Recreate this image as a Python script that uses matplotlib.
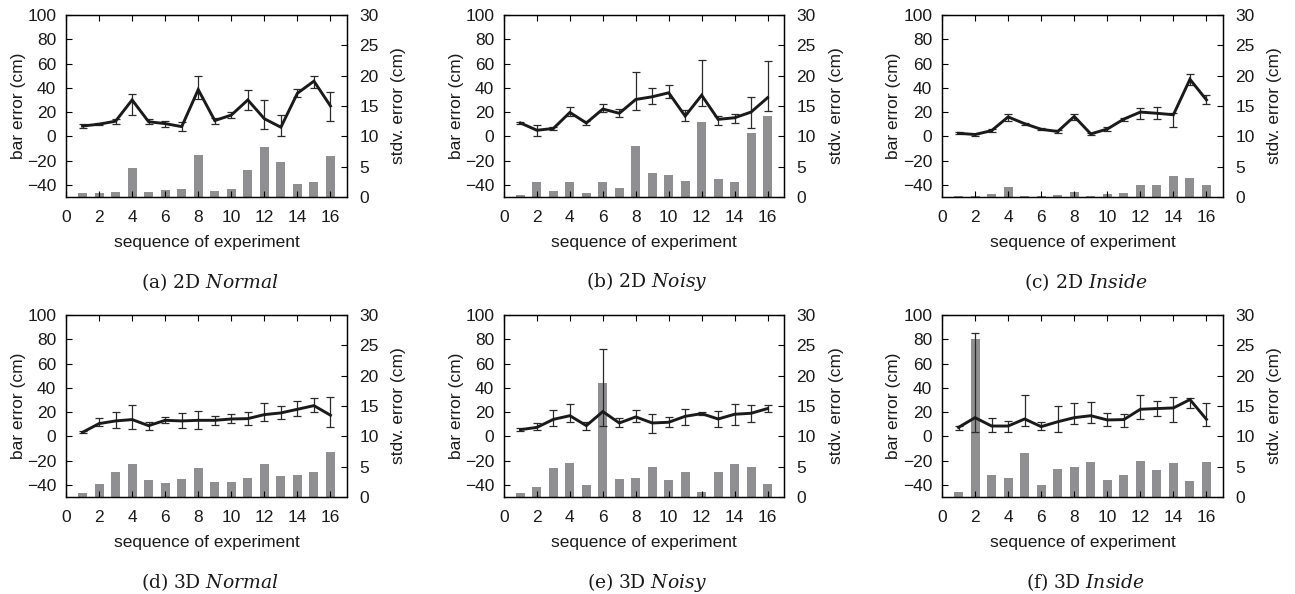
import matplotlib
matplotlib.use("Agg")
import matplotlib.pyplot as plt
import numpy as np

# ---------------- data ----------------
seq = list(range(1, 17))
x_ticks = [0, 2, 4, 6, 8, 10, 12, 14, 16]
left_ticks = [-40, -20, 0, 20, 40, 60, 80, 100]
right_ticks = [0, 5, 10, 15, 20, 25, 30]

captions = ["(a) 2D ", "(b) 2D ", "(c) 2D ", "(d) 3D ", "(e) 3D ", "(f) 3D "]
cap_italic = ["Normal", "Noisy", "Inside", "Normal", "Noisy", "Inside"]

a_mean = [8.5, 10, 12.5, 30, 12, 10.5, 8, 38.5, 13, 17.5, 30, 14.5, 7.5, 35.5, 45.5, 25]
a_lo = [7, 9, 10.5, 17.5, 10, 7.7, 4.4, 30.4, 9.8, 15.3, 21.3, 6.3, 0.5, 32.6, 40, 12.9]
a_hi = [10, 11, 14, 35, 14, 13, 12, 50, 15.3, 20, 38, 29.8, 17.5, 39, 49.6, 36.7]
a_std = [0.6, 0.6, 0.8, 4.7, 0.8, 1.2, 1.4, 7.0, 1.0, 1.4, 4.5, 8.2, 5.8, 2.2, 2.5, 6.7]

b_mean = [11, 5, 6.5, 19.7, 11, 22.5, 19, 30.4, 32.6, 35.9, 16.7, 33.9, 14, 15.3, 20, 31.8]
b_lo = [10, 0.5, 5, 16.4, 9.6, 19.7, 16, 21.6, 26.3, 31.8, 12.5, 24.9, 9, 11, 6.9, 20.8]
b_hi = [12, 9, 8, 24.4, 12.3, 26.6, 22.7, 53.4, 39.7, 42.2, 21.3, 63.3, 16.7, 18, 32.4, 62]
b_std = [0.4, 2.5, 1.0, 2.4, 0.7, 2.4, 1.5, 8.4, 4.0, 3.7, 2.7, 12.3, 2.9, 2.5, 10.6, 13.4]

c_mean = [2.5, 1.5, 4.7, 16, 10.4, 5.8, 4, 16.4, 2, 6, 14.2, 20, 19, 17.8, 47, 30]
c_lo = [1.7, 0.3, 3.6, 12.3, 9.6, 5, 3, 13.7, 1.2, 4.7, 13, 14.5, 14.5, 7.4, 42.5, 26.6]
c_hi = [3.3, 2.2, 5.8, 18, 11, 6.6, 5, 18, 2.7, 7.4, 15.3, 23, 24, 19, 51, 33.7]
c_std = [0.2, 0.2, 0.55, 1.7, 0.2, 0.1, 0.4, 0.9, 0.2, 0.55, 0.7, 2.0, 2.0, 3.4, 3.1, 2.0]

d_mean = [3.3, 10.5, 12.7, 13.8, 8.8, 13.2, 12.7, 13.2, 13.2, 14.3, 14.6, 17.9, 19.3, 22.3, 25.3, 17.4]
d_lo = [2.5, 8.8, 7, 5.8, 5.5, 10.7, 6.9, 5.8, 9.6, 10.7, 9.6, 12.7, 14.3, 16.5, 19.8, 7.7]
d_hi = [4.5, 14.9, 20.4, 25.6, 12, 16.3, 19.6, 20.7, 16.8, 18.2, 19.8, 27.5, 25, 28.9, 31.7, 32.2]
d_std = [0.6, 2.1, 4.2, 5.4, 2.75, 2.25, 2.9, 4.7, 2.4, 2.4, 3.1, 5.4, 3.4, 3.6, 4.1, 7.5]

e_mean = [5.5, 7.4, 14, 17, 8.8, 20.4, 11, 16, 11, 11.6, 16.5, 18.7, 14.3, 18.2, 19, 22.9]
e_lo = [4.7, 5.5, 8.8, 11.6, 5.5, 8.3, 7.4, 11.6, 2.5, 7.4, 9.6, 17.6, 7.7, 9.6, 11.6, 19.8]
e_hi = [6.9, 11, 21.5, 26.4, 12, 71.6, 14.9, 21.5, 18.7, 16, 22.9, 19.8, 21.2, 27, 26.2, 25.6]
e_std = [0.6, 1.6, 4.7, 5.6, 1.9, 18.8, 2.9, 3.1, 4.9, 2.75, 4.1, 0.9, 4.2, 5.4, 4.9, 2.1]

f_mean = [7.4, 15.4, 8.5, 8.5, 14.3, 8, 12, 15.4, 17, 13.5, 13.8, 22.3, 22.9, 23.4, 30.3, 14]
f_lo = [5.5, 3.3, 3.6, 3.6, 8.8, 5.5, 3.3, 9.9, 10.7, 8.8, 8, 14.6, 16.5, 11.6, 23.1, 8.3]
f_hi = [8.5, 85, 14.9, 12.9, 34.4, 11.6, 24.8, 27.5, 28.4, 19, 18.5, 34.2, 29, 32.5, 31.9, 27.3]
f_std = [0.9, 26.1, 3.6, 3.1, 7.2, 1.9, 4.6, 4.9, 5.7, 2.75, 3.6, 5.9, 4.4, 5.6, 2.6, 5.7]

panels = [
    (a_mean, a_lo, a_hi, a_std),
    (b_mean, b_lo, b_hi, b_std),
    (c_mean, c_lo, c_hi, c_std),
    (d_mean, d_lo, d_hi, d_std),
    (e_mean, e_lo, e_hi, e_std),
    (f_mean, f_lo, f_hi, f_std),
]

# ---------------- style ----------------
plt.rcParams['font.family'] = ['Liberation Sans', 'DejaVu Sans']
plt.rcParams['mathtext.fontset'] = 'custom'
plt.rcParams['mathtext.rm'] = 'DejaVu Serif'
plt.rcParams['mathtext.it'] = 'DejaVu Serif:italic'

W, H = 1295, 594
fig = plt.figure(figsize=(W / 100, H / 100), dpi=100)

col_left = [66, 504, 942]
col_width = [281, 280, 281]
row_top = [15, 315]
ax_h = 182

TXT = '#1a1a1a'
FS = 12.5
BAR_C = '#8f8f91'

for i, (mean, lo, hi, std) in enumerate(panels):
    r, c = divmod(i, 3)
    left = col_left[c] / W
    bottom = 1 - (row_top[r] + ax_h) / H
    ax = fig.add_axes([left, bottom, col_width[c] / W, ax_h / H])
    ax2 = ax.twinx()

    # bars on right axis (behind)
    ax2.bar(seq, std, width=0.55, color=BAR_C, zorder=1)
    ax2.set_ylim(0, 30)
    ax2.set_yticks(right_ticks)

    mean_a = np.array(mean)
    yerr = [mean_a - np.array(lo), np.array(hi) - mean_a]
    ax.errorbar(seq, mean, yerr=yerr, fmt='none', ecolor='#2a2a2a',
                elinewidth=0.9, capsize=3, capthick=0.9, zorder=3)
    ax.plot(seq, mean, color='#1a1a1a', lw=2.1, zorder=4, solid_joinstyle='miter')

    ax.set_xlim(0, 17)
    ax.set_ylim(-50, 100)
    ax.set_xticks(x_ticks)
    ax.set_yticks(left_ticks)

    ax.set_zorder(ax2.get_zorder() + 1)
    ax.patch.set_visible(False)

    ax.tick_params(axis='x', direction='in', top=True, bottom=True, length=4,
                   width=0.8, labelsize=FS, labelcolor=TXT, pad=9)
    ax.tick_params(axis='y', direction='in', left=True, right=False, length=4,
                   width=0.8, labelsize=FS, labelcolor=TXT, pad=7)
    ax2.tick_params(axis='y', direction='in', right=True, left=False, length=4,
                    width=0.8, labelsize=FS, labelcolor=TXT, pad=9)
    for sp in list(ax.spines.values()) + list(ax2.spines.values()):
        sp.set_linewidth(0.9)
        sp.set_color('black')

    ax.set_xlabel('sequence of experiment', fontsize=FS, color=TXT)
    ax.xaxis.set_label_coords(0.5, -46 / ax_h)
    ax.xaxis.label.set_va('center')

    ax.set_ylabel('bar error (cm)', fontsize=FS, color=TXT)
    ax.yaxis.set_label_coords(-48 / col_width[c], 0.5)
    ax.yaxis.label.set_va('center')

    ax2.set_ylabel('stdv. error (cm)', fontsize=FS, color=TXT)
    ax2.yaxis.set_label_coords(1 + 52 / col_width[c], 0.5)
    ax2.yaxis.label.set_va('center')

    cx = (col_left[c] + col_width[c] / 2 + 3) / W
    cy = 1 - (row_top[r] + ax_h + 85) / H
    fig.text(cx, cy, captions[i] + r'$\mathit{' + cap_italic[i] + '}$',
             family='DejaVu Serif', fontsize=13.5, color=TXT,
             ha='center', va='center')

fig.savefig('out.png', dpi=100)
